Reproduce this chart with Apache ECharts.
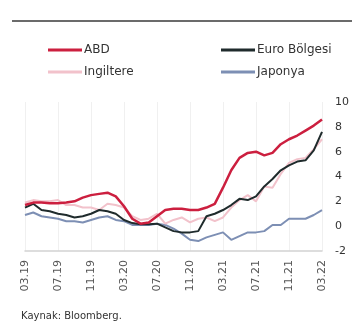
<!DOCTYPE html>
<html>
<head>
<meta charset="utf-8">
<script src="https://cdn.jsdelivr.net/npm/echarts@6/dist/echarts.min.js"></script>
<style>
  html, body { margin: 0; padding: 0; background: #fff; }
  #chart { width: 352px; height: 328px; }
</style>
</head>
<body>
<div id="chart"></div>
<script>
// Monthly annual inflation, %
const months = [
  '03.19','04.19','05.19','06.19','07.19','08.19','09.19','10.19','11.19','12.19','01.20','02.20',
  '03.20','04.20','05.20','06.20','07.20','08.20','09.20','10.20','11.20','12.20','01.21','02.21',
  '03.21','04.21','05.21','06.21','07.21','08.21','09.21','10.21','11.21','12.21','01.22','02.22','03.22'
];
const abd = [
  1.7, 1.9, 1.9, 1.85, 1.85, 1.9, 2.0, 2.3, 2.5, 2.6, 2.7, 2.4,
  1.6, 0.6, 0.2, 0.3, 0.8, 1.3, 1.4, 1.4, 1.3, 1.3, 1.5, 1.8,
  3.1, 4.5, 5.5, 5.9, 6.0, 5.7, 5.9, 6.6, 7.0, 7.3, 7.7, 8.1, 8.6
];
const euro = [
  1.5, 1.8, 1.3, 1.2, 1.0, 0.9, 0.7, 0.8, 1.0, 1.3, 1.2, 1.0,
  0.5, 0.25, 0.15, 0.15, 0.2, -0.1, -0.4, -0.5, -0.5, -0.4, 0.8, 1.0,
  1.3, 1.7, 2.2, 2.1, 2.4, 3.2, 3.8, 4.5, 4.9, 5.2, 5.3, 6.1, 7.6
];
const ingiltere = [
  1.9, 2.1, 2.0, 2.0, 2.1, 1.7, 1.7, 1.5, 1.5, 1.3, 1.8, 1.7,
  1.5, 0.8, 0.5, 0.6, 1.0, 0.2, 0.5, 0.7, 0.3, 0.6, 0.7, 0.4,
  0.7, 1.5, 2.1, 2.5, 2.0, 3.2, 3.1, 4.2, 5.1, 5.4, 5.5, 6.2, 7.0
];
const japonya = [
  0.9, 1.1, 0.8, 0.7, 0.6, 0.4, 0.4, 0.3, 0.5, 0.7, 0.8, 0.5,
  0.4, 0.1, 0.1, 0.1, 0.2, 0.1, -0.2, -0.6, -1.1, -1.2, -0.9, -0.7,
  -0.5, -1.1, -0.8, -0.5, -0.5, -0.4, 0.1, 0.1, 0.6, 0.6, 0.6, 0.9, 1.3
];
const yTicks = { min: -2, max: 10, step: 2 };

const FONT = 'DejaVu Sans';
const chart = echarts.init(document.getElementById('chart'), null, { renderer: 'canvas' });

function line(name, data, color, width, z) {
  return {
    name: name, type: 'line', data: data, z: z,
    symbol: 'none', smooth: false,
    lineStyle: { color: color, width: width },
    itemStyle: { color: color }
  };
}

chart.setOption({
  animation: false,
  backgroundColor: '#fff',
  textStyle: { fontFamily: FONT },
  grid: { left: 25, right: 22, top: 102, bottom: 77, containLabel: false },
  legend: [
    {
      data: ['ABD', 'Ingiltere'], orient: 'vertical', left: 43, top: 39,
      icon: 'rect', itemWidth: 34, itemHeight: 3, itemGap: 10,
      textStyle: { fontFamily: FONT, fontSize: 12, color: '#333', padding: [0, 0, 0, -3] }
    },
    {
      data: ['Euro Bölgesi', 'Japonya'], orient: 'vertical', left: 216, top: 39,
      icon: 'rect', itemWidth: 34, itemHeight: 3, itemGap: 10,
      textStyle: { fontFamily: FONT, fontSize: 12, color: '#333', padding: [0, 0, 0, -3] }
    }
  ],
  xAxis: [
    {
      type: 'category', data: months, boundaryGap: false,
      axisLine: { show: false }, axisTick: { show: false },
      axisLabel: { interval: 3, rotate: 90, margin: 9, fontSize: 11, color: '#555', fontFamily: FONT },
      splitLine: { show: true, interval: 3, lineStyle: { color: '#f0f0f0', width: 1 } }
    },
    {
      type: 'category', data: months, boundaryGap: false, position: 'bottom',
      axisLine: { show: true, onZero: true, lineStyle: { color: '#d2d2d2', width: 1.5 } },
      axisTick: { show: false }, axisLabel: { show: false }, splitLine: { show: false }
    }
  ],
  yAxis: {
    type: 'value', position: 'right',
    min: yTicks.min, max: yTicks.max, interval: yTicks.step,
    axisLine: { show: false }, axisTick: { show: false },
    splitLine: { show: false },
    axisLabel: { margin: 13, fontSize: 11, color: '#333', fontFamily: FONT }
  },
  series: [
    line('Japonya', japonya, '#7d8fb4', 2, 2),
    line('Ingiltere', ingiltere, '#f2c2cb', 2, 3),
    line('Euro Bölgesi', euro, '#1f2b2c', 2, 4),
    line('ABD', abd, '#cc1f3f', 2.5, 5)
  ],
  graphic: [
    {
      type: 'line', silent: true,
      shape: { x1: 12, y1: 21, x2: 352, y2: 21 },
      style: { stroke: '#3a3a3a', lineWidth: 1.5 }
    },
    {
      type: 'text', left: 21, top: 311, silent: true,
      style: { text: 'Kaynak: Bloomberg.', fontFamily: FONT, fontSize: 10, fill: '#333' }
    }
  ]
});
</script>
</body>
</html>
